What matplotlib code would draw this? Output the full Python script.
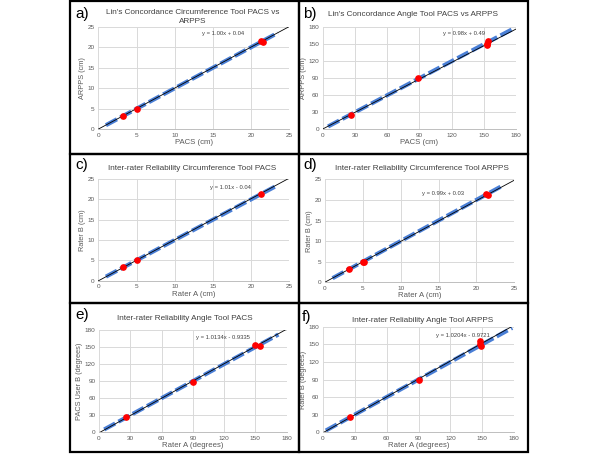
import matplotlib
matplotlib.use("Agg")
import matplotlib.pyplot as plt
from matplotlib.patches import Rectangle

plt.rcParams['font.family'] = ['Liberation Sans', 'DejaVu Sans']

W, H = 600, 457

# ---------------- data ----------------
labels = ["a)", "b)", "c)", "d)", "e)", "f)"]
titles = ["Lin's Concordance Circumference Tool PACS vs\nARPPS",
          "Lin's Concordance Angle Tool PACS vs ARPPS",
          "Inter-rater Reliability Circumference Tool PACS",
          "Inter-rater Reliability Circumference Tool ARPPS",
          "Inter-rater Reliability Angle Tool PACS",
          "Inter-rater Reliability Angle Tool ARPPS"]
xlabels = ["PACS (cm)", "PACS (cm)", "Rater A (cm)", "Rater A (cm)",
           "Rater A (degrees)", "Rater A (degrees)"]
ylabels = ["ARPPS (cm)", "ARPPS (cm)", "Rater B (cm)", "Rater B (cm)",
           "PACS User B (degrees)", "Rater B (degrees)"]
equations = ["y = 1.00x + 0.04", "y = 0.98x + 0.49", "y = 1.01x - 0.04",
             "y = 0.99x + 0.03", "y = 1.0134x - 0.9335", "y = 1.0204x - 0.9721"]
slopes = [1.00, 0.98, 1.01, 0.99, 1.0134, 1.0204]
intercepts = [0.04, 0.49, -0.04, 0.03, -0.9335, -0.9721]
axis_max = [25, 180, 25, 25, 180, 180]
tick_step = [5, 30, 5, 5, 30, 30]
# blue dashed fitted range (x start, x end)
blue_range = [(1.0, 23.5), (5, 178), (1.0, 23.5), (1.0, 23.5), (5, 172), (3, 178)]
# red observed points
red_x = [[3.2, 5.0, 21.3, 21.5],
         [26, 89, 153, 154, 153],
         [3.2, 5.0, 21.3],
         [3.2, 5.0, 5.2, 21.2, 21.5],
         [26, 90, 150, 154],
         [26, 90, 148, 148, 149]]
red_y = [[3.2, 5.0, 21.4, 21.3],
         [26, 90, 150, 155, 148],
         [3.3, 5.1, 21.4],
         [3.2, 5.0, 5.0, 21.5, 21.2],
         [27, 89, 154, 152],
         [26, 89, 150, 155, 147]]

# ---------------- layout (pixels) ----------------
axes_px = [(98.3, 289.3, 26.7, 129.3),
           (322.7, 516.0, 27.3, 129.3),
           (98.3, 289.3, 179.0, 280.7),
           (325.0, 514.3, 179.3, 282.3),
           (99.0, 286.7, 330.0, 432.3),
           (322.7, 514.3, 326.7, 432.3)]
title_pos = [(193, 17), (413, 15), (192, 168), (422, 168), (185, 318), (423, 320)]
label_pos = [(82, 14), (310, 14), (82, 165), (310, 165), (82, 315), (307, 317)]
eq_pos = [(223, 34), (464, 33), (230, 188), (443, 193), (223, 338), (463, 335)]

fig = plt.figure(figsize=(W / 100, H / 100), dpi=100)

def fx(x):
    return x / W

def fy(y):
    return 1 - y / H

gray = '#595959'
for i in range(6):
    l, r, t, b = axes_px[i]
    ax = fig.add_axes([fx(l), fy(b), (r - l) / W, (b - t) / H])
    m = axis_max[i]
    ax.set_xlim(0, m)
    ax.set_ylim(0, m)
    ticks = list(range(0, m + 1, tick_step[i]))
    ax.set_xticks(ticks)
    ax.set_yticks(ticks)
    ax.grid(True, color='#d9d9d9', linewidth=0.7)
    ax.set_axisbelow(True)
    for s in ['top', 'right', 'left']:
        ax.spines[s].set_visible(False)
    ax.spines['bottom'].set_color('#bfbfbf')
    ax.spines['bottom'].set_linewidth(0.7)
    ax.tick_params(length=0, labelsize=4.6, colors=gray, pad=2.5)
    ax.set_xlabel(xlabels[i], fontsize=5.6, color=gray, labelpad=1)
    ax.set_ylabel(ylabels[i], fontsize=5.3, color=gray, labelpad=1)

    x0, x1 = blue_range[i]
    ax.plot([x0, x1], [x0, x1], color='#4a7fd6', lw=3.0, dashes=(3.0, 0.9),
            solid_capstyle='butt', zorder=2)
    ax.plot([0, m], [intercepts[i], slopes[i] * m + intercepts[i]],
            color='black', lw=0.6, zorder=3)
    ax.plot(red_x[i], red_y[i], 'o', color='#ff0000', ms=3.8, zorder=4, clip_on=False)

    fig.text(fx(eq_pos[i][0]), fy(eq_pos[i][1]), equations[i], fontsize=4.2,
             color='#404040', ha='center', va='center')
    fig.text(fx(title_pos[i][0]), fy(title_pos[i][1]), titles[i], fontsize=5.9,
             color='#404040', ha='center', va='center', linespacing=1.25)
    fig.text(fx(label_pos[i][0]), fy(label_pos[i][1]), labels[i], fontsize=11,
             color='black', ha='center', va='center')

# panel borders
cols = [70, 299, 528]
rows = [1, 154, 303, 452]
for ci in range(2):
    for ri in range(3):
        x0, x1 = cols[ci], cols[ci + 1]
        y0, y1 = rows[ri], rows[ri + 1]
        fig.patches.append(Rectangle((fx(x0), fy(y1)), (x1 - x0) / W, (y1 - y0) / H,
                                     transform=fig.transFigure, fill=False,
                                     edgecolor='black', linewidth=1.6))

fig.savefig("out.png", dpi=100)
